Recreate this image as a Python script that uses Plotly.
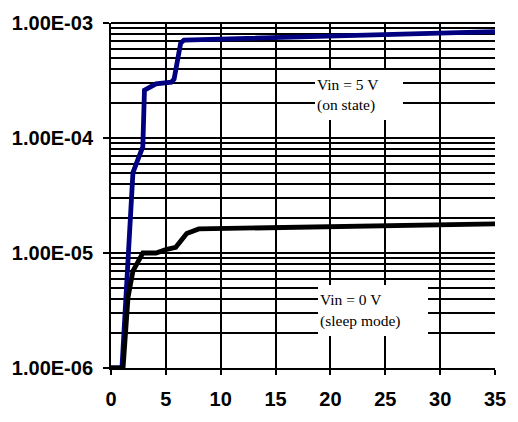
import plotly.graph_objects as go

# Data
on_x = [0, 1, 2, 2.9, 3.05, 4.1, 5.5, 5.75, 6.35, 6.65, 35]
on_y = [1e-6, 1e-6, 5.0e-5, 8.4e-5, 2.6e-4, 2.96e-4, 3.06e-4, 3.25e-4, 6.7e-4, 7.1e-4, 8.4e-4]

sleep_x = [0, 1.1, 1.55, 2.0, 2.9, 4.1, 5.0, 5.9, 6.9, 8.0, 35]
sleep_y = [1e-6, 1e-6, 4.1e-6, 6.95e-6, 1.0e-5, 1.0e-5, 1.07e-5, 1.12e-5, 1.48e-5, 1.62e-5, 1.79e-5]

x_ticks = [0, 5, 10, 15, 20, 25, 30, 35]
y_ticks = [1e-6, 1e-5, 1e-4, 1e-3]
y_ticktext = ["1.00E-06", "1.00E-05", "1.00E-04", "1.00E-03"]
y_minor = [m * 10 ** e for e in (-6, -5, -4) for m in range(2, 10)]

label_on = "Vin = 5 V<br>(on state)"
label_sleep = "Vin = 0 V<br>(sleep mode)"

fig = go.Figure()
fig.add_trace(go.Scatter(x=on_x, y=on_y, mode="lines",
                         line=dict(color="#000080", width=4.8), showlegend=False))
fig.add_trace(go.Scatter(x=sleep_x, y=sleep_y, mode="lines",
                         line=dict(color="#000000", width=4.8), showlegend=False))

tickfont = dict(family="Liberation Sans, Arial, sans-serif", size=20, color="black", weight="bold")
annfont = dict(family="Liberation Serif, Times New Roman, serif", size=15.5, color="black")

fig.update_layout(
    width=518, height=422,
    margin=dict(l=108, r=19, t=16, b=41),
    paper_bgcolor="white", plot_bgcolor="white",
    xaxis=dict(range=[0, 35], tickmode="array", tickvals=x_ticks,
               showgrid=True, gridcolor="black", gridwidth=2,
               showline=True, linecolor="black", linewidth=2,
               ticks="outside", ticklen=5, tickwidth=2, tickcolor="black",
               tickfont=tickfont, zeroline=False, ticklabelstandoff=7,
               ticklabeloverflow="allow"),
    yaxis=dict(type="log", range=[-6, -3], tickmode="array", tickvals=y_ticks,
               ticktext=y_ticktext,
               showgrid=True, gridcolor="black", gridwidth=2,
               showline=True, linecolor="black", linewidth=2,
               ticks="outside", ticklen=6, tickwidth=2, tickcolor="black",
               tickfont=tickfont, zeroline=False, ticklabelstandoff=6,
               ticklabeloverflow="allow",
               minor=dict(tickmode="array", tickvals=y_minor, showgrid=True,
                          gridcolor="black", gridwidth=2, ticks="")),
    annotations=[
        dict(text=label_on, xref="paper", yref="paper", x=0.530, y=0.865,
             xanchor="left", yanchor="top", showarrow=False, align="left",
             width=84, height=46, valign="middle", bgcolor="white",
             borderpad=2, borderwidth=0, font=annfont),
        dict(text=label_sleep, xref="paper", yref="paper", x=0.540, y=0.240,
             xanchor="left", yanchor="top", showarrow=False, align="left",
             width=106, height=47, valign="middle", bgcolor="white",
             borderpad=2, borderwidth=0, font=annfont),
    ],
)
fig.add_shape(type="line", xref="paper", yref="paper", x0=0, x1=1, y0=1, y1=1,
              line=dict(color="black", width=2))

# remove the default page margin so the figure sits at the window origin
fig.write_html("out.html",
               config={"displayModeBar": False, "responsive": False},
               post_script="document.body.style.margin='0';document.body.style.overflow='hidden';")
